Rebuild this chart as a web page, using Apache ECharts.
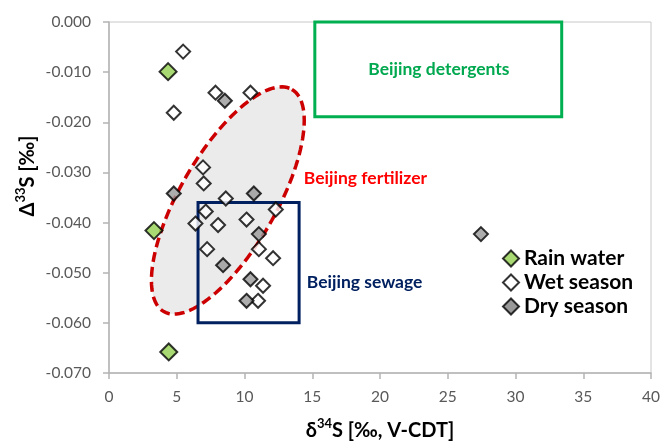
<!DOCTYPE html>
<html>
<head>
<meta charset="utf-8">
<script src="https://cdn.jsdelivr.net/npm/echarts@6/dist/echarts.min.js"></script>
<style>
  html, body { margin: 0; padding: 0; background: #fff; }
  #chart { width: 663px; height: 442px; }
</style>
</head>
<body>
<div id="chart"></div>
<script>
// δ34S (‰, V-CDT) and Δ33S (‰) of the sampled waters
const rainX = [4.36, 3.32, 4.41];
const rainY = [-0.0099, -0.0416, -0.0658];

const wetX = [5.47, 7.86, 10.44, 4.78, 6.94, 6.99, 8.62, 7.14, 6.38, 8.05, 10.15, 12.31, 11.06, 7.24, 12.11, 11.37, 11.00];
const wetY = [-0.0059, -0.0141, -0.0141, -0.0181, -0.0290, -0.0322, -0.0352, -0.0378, -0.0402, -0.0405, -0.0394, -0.0374, -0.0453, -0.0453, -0.0471, -0.0526, -0.0556];

const dryX = [8.55, 4.78, 10.69, 11.06, 8.42, 10.44, 10.15, 27.45];
const dryY = [-0.0157, -0.0342, -0.0342, -0.0423, -0.0485, -0.0513, -0.0556, -0.0423];

const seriesNames = ['Rain water', 'Wet season', 'Dry season'];

// Source fields, in axis units
const detergentBox = { x: [15.19, 33.41], y: [-0.0189, 0] };
const sewageBox = { x: [6.57, 14.03], y: [-0.0600, -0.0360] };
const fertilizerEllipse = { cx: 8.77, cy: -0.0356, major: [4.73, 0.02215], minor: [3.07, -0.0048] };

const regionLabels = [
  { text: 'Beijing detergents', at: [24.35, -0.0095], align: 'center', color: '#00a84f' },
  { text: 'Beijing fertilizer', at: [14.38, -0.0312], align: 'left', color: '#ff0000' },
  { text: 'Beijing sewage', at: [14.60, -0.0519], align: 'left', color: '#002060' }
];

const FONT = 'Lato, "Open Sans", sans-serif';

function zip(xs, ys) { return xs.map((x, i) => [x, ys[i]]); }

function boxShape(api, box, color) {
  const p0 = api.coord([box.x[0], box.y[1]]);
  const p1 = api.coord([box.x[1], box.y[0]]);
  return {
    type: 'rect',
    shape: { x: p0[0], y: p0[1], width: p1[0] - p0[0], height: p1[1] - p0[1] },
    style: { fill: 'none', stroke: color, lineWidth: 3 }
  };
}

function renderRegions(params, api) {
  const e = fertilizerEllipse;
  const pts = [];
  const n = 120;
  for (let i = 0; i < n; i++) {
    const t = (i / n) * Math.PI * 2;
    const c = Math.cos(t), s = Math.sin(t);
    pts.push(api.coord([e.cx + c * e.major[0] + s * e.minor[0], e.cy + c * e.major[1] + s * e.minor[1]]));
  }
  const children = [
    {
      type: 'polygon',
      shape: { points: pts },
      style: { fill: '#ebebeb', stroke: '#cc0000', lineWidth: 3.5, lineDash: [10, 5] }
    },
    boxShape(api, detergentBox, '#00b050'),
    boxShape(api, sewageBox, '#002060')
  ];
  regionLabels.forEach(l => {
    const p = api.coord(l.at);
    children.push({
      type: 'text',
      x: p[0], y: p[1],
      style: {
        text: l.text, fill: l.color, align: l.align, verticalAlign: 'middle',
        font: 'bold 17.5px ' + FONT
      }
    });
  });
  return { type: 'group', children: children };
}

const nameRich = {
  b: { fontFamily: FONT, fontWeight: 'bold', fontSize: 20, color: '#000', verticalAlign: 'bottom', lineHeight: 24 },
  sup: { fontFamily: FONT, fontWeight: 'bold', fontSize: 13, color: '#000', verticalAlign: 'top', lineHeight: 24, padding: [0, 0, 6, 0] }
};

const chart = echarts.init(document.getElementById('chart'), null, { renderer: 'canvas' });

const pointBase = { type: 'scatter', symbol: 'diamond', z: 5 };

chart.setOption({
  animation: false,
  backgroundColor: '#ffffff',
  grid: {
    left: 109, right: 12, top: 22, bottom: 69,
    outerBoundsMode: 'none', containLabel: false,
    show: true, borderColor: '#c8c8c8', borderWidth: 1
  },
  legend: {
    orient: 'vertical', left: 497, top: 243,
    itemWidth: 16, itemHeight: 16, itemGap: 3,
    icon: 'diamond',
    textStyle: { fontFamily: FONT, fontWeight: 'bold', fontSize: 21, color: '#000' },
    data: [
      { name: seriesNames[0] },
      { name: seriesNames[1] },
      { name: seriesNames[2], itemStyle: { color: '#7f7f7f' } }
    ]
  },
  graphic: [
    {
      type: 'text', x: 26, y: 176, rotation: Math.PI / 2,
      style: {
        text: '{b|\u0394}{sup|33}{b|S [\u2030]}', rich: nameRich,
        align: 'center', verticalAlign: 'middle'
      }
    }
  ],
  xAxis: {
    type: 'value', min: 0, max: 40, interval: 5,
    name: '{b|\u03b4}{sup|34}{b|S [\u2030, V-CDT]}', nameLocation: 'middle', nameGap: 44,
    nameTextStyle: { rich: nameRich },
    axisLine: { onZero: false, lineStyle: { color: '#b4b4b4', width: 1.5 } },
    axisTick: { show: true, length: 6, lineStyle: { color: '#b4b4b4', width: 1.5 } },
    axisLabel: { fontFamily: FONT, fontSize: 15.5, color: '#595959', margin: 16 },
    splitLine: { show: false }
  },
  yAxis: {
    type: 'value', min: -0.07, max: 0, interval: 0.01,
    axisLine: { show: true, onZero: false, lineStyle: { color: '#b4b4b4', width: 1.5 } },
    axisTick: { show: true, length: 6, lineStyle: { color: '#b4b4b4', width: 1.5 } },
    axisLabel: {
      fontFamily: FONT, fontSize: 15.5, color: '#595959', margin: 18,
      formatter: v => (Math.abs(v) < 1e-9 ? 0 : v).toFixed(3)
    },
    splitLine: { show: false }
  },
  series: [
    {
      type: 'custom', name: 'regions', renderItem: renderRegions,
      data: [[0, 0]], silent: true, z: 1, clip: false
    },
    Object.assign({}, pointBase, {
      name: seriesNames[0], data: zip(rainX, rainY), symbolSize: 17,
      itemStyle: { color: '#92d050', borderColor: '#000', borderWidth: 2 }
    }),
    Object.assign({}, pointBase, {
      name: seriesNames[1], data: zip(wetX, wetY), symbolSize: 14,
      itemStyle: { color: '#ffffff', borderColor: '#000', borderWidth: 2 }
    }),
    Object.assign({}, pointBase, {
      name: seriesNames[2], data: zip(dryX, dryY), symbolSize: 14,
      itemStyle: { color: '#999999', borderColor: '#000', borderWidth: 2 }
    })
  ]
});
</script>
</body>
</html>
